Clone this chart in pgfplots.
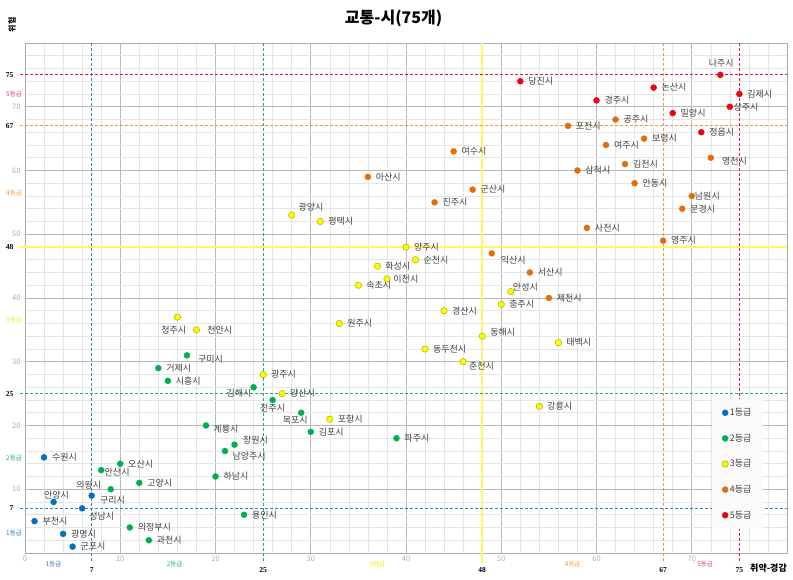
\documentclass[border=0pt]{standalone}
\usepackage{fontspec}
\setmainfont{Noto Sans CJK KR}
\newfontfamily\numserif{Liberation Serif}
\usepackage{pgfplots}
\pgfplotsset{compat=1.18}
\definecolor{c1}{HTML}{0070C0}
\definecolor{c2}{HTML}{00B050}
\definecolor{c3}{HTML}{FFFF00}
\definecolor{c3e}{HTML}{B8B800}
\definecolor{c4}{HTML}{E46C0A}
\definecolor{c5}{HTML}{F00010}
\definecolor{l1}{HTML}{2E86C1}
\definecolor{l2}{HTML}{14B07A}
\definecolor{l3}{HTML}{FFF766}
\definecolor{l4}{HTML}{E89A3C}
\definecolor{l5}{HTML}{DC1E3C}
\definecolor{t1}{HTML}{2E75B6}
\definecolor{t2}{HTML}{1AAE6E}
\definecolor{t3}{HTML}{F2E800}
\definecolor{t4}{HTML}{F09A40}
\definecolor{t5}{HTML}{D9404F}
\definecolor{labgray}{HTML}{404040}
\tikzset{
  lbl/.style={font=\fontsize{9}{10}\selectfont, text=labgray, inner sep=0pt},
  R/.style={anchor=west, xshift=7.8pt},
  thr/.style={font=\numserif\bfseries\fontsize{7.5}{8}\selectfont, inner sep=0pt},
  grd/.style={font=\fontsize{6.5}{7}\selectfont, inner sep=0pt},
  dsh/.style={line width=1pt, dash pattern=on 3pt off 2pt},
}
\newcommand{\lab}[3]{\node[lbl,R] at (axis cs:#1,#2) {#3};}
\newcommand{\labx}[4][]{\node[lbl,#1] at (axis cs:#2,#3) {#4};}
\begin{document}
\begin{tikzpicture}
\begin{axis}[
  scale only axis, width=762pt, height=510pt,
  xmin=0, xmax=80, ymin=0, ymax=80,
  xtick={0,10,...,80}, ytick={0,10,...,80},
  xticklabels={0,10,20,30,40,50,60,70,{}},
  yticklabels={{},10,20,30,40,50,60,70,{}},
  minor x tick num=4, minor y tick num=4,
  grid=both,
  major grid style={draw=gray!55, line width=0.6pt},
  minor grid style={draw=gray!20, line width=0.5pt},
  axis line style={draw=gray!65},
  major tick length=0pt, minor tick length=0pt,
  tick label style={font=\fontsize{7.5}{8}\selectfont, text=gray!65},
  yticklabel style={xshift=-1pt},
  clip=false,
  legend cell align=left,
  legend image code/.code={\draw[#1] plot coordinates {(0pt,0pt)};},
  legend style={at={(rel axis cs:0.935,0.1745)}, anchor=center, draw=none, fill=gray!4,
    font=\fontsize{9}{10}\selectfont, text=labgray, row sep=14pt,
    inner xsep=10pt, inner ysep=8pt, nodes={inner sep=1.5pt}},
]
% threshold lines
\addplot[forget plot, l3, line width=2.2pt] coordinates {(48,80) (48,-1.57)};
\addplot[forget plot, l3, line width=2.2pt] coordinates {(-0.52,48) (80,48)};
\addplot[forget plot, l1, dsh] coordinates {(7,80) (7,-1.57)};
\addplot[forget plot, l2, dsh] coordinates {(25,80) (25,-1.57)};
\addplot[forget plot, l4, dsh] coordinates {(67,80) (67,-1.57)};
\addplot[forget plot, l5, dsh] coordinates {(75,80) (75,-1.57)};
\addplot[forget plot, l1, dsh] coordinates {(-0.52,7) (80,7)};
\addplot[forget plot, l2, dsh] coordinates {(-0.52,25) (80,25)};
\addplot[forget plot, l4, dsh] coordinates {(-0.52,67) (80,67)};
\addplot[forget plot, l5, dsh] coordinates {(-0.52,75) (80,75)};

% grade 1
\addplot[only marks, mark=*, mark size=3pt, mark options={draw=c1, fill=c1}] table {
x y
2 15
7 9
3 8
6 7
1 5
4 3
5 1
};
\addlegendentry{1등급}
% grade 2
\addplot[only marks, mark=*, mark size=3pt, mark options={draw=c2, fill=c2}] table {
x y
17 31
14 29
15 27
24 26
26 24
29 22
19 20
30 19
39 18
22 17
21 16
10 14
8 13
20 12
12 11
9 10
23 6
11 4
13 2
};
\addlegendentry{2등급}
% grade 3
\addplot[only marks, mark=*, mark size=3.2pt, mark options={draw=c3e, fill=c3, line width=0.6pt}] table {
x y
28 53
31 52
40 48
41 46
37 45
38 43
35 42
51 41
50 39
44 38
16 37
33 36
18 35
48 34
56 33
42 32
46 30
25 28
27 25
54 23
32 21
};
\addlegendentry{3등급}
% grade 4
\addplot[only marks, mark=*, mark size=3pt, mark options={draw=c4, fill=c4}] table {
x y
62 68
57 67
65 65
61 64
45 63
72 62
63 61
58 60
36 59
64 58
47 57
70 56
43 55
69 54
59 51
67 49
49 47
53 44
55 40
};
\addlegendentry{4등급}
% grade 5
\addplot[only marks, mark=*, mark size=3pt, mark options={draw=c5, fill=c5}] table {
x y
73 75
52 74
66 73
75 72
60 71
74 70
68 69
71 66
};
\addlegendentry{5등급}

% labels grade 5
\labx[anchor=south, xshift=1pt, yshift=7pt]{73}{75}{나주시}
\lab{52}{74}{당진시}
\lab{66}{73}{논산시}
\lab{75}{72}{김제시}
\lab{60}{71}{경주시}
\labx[anchor=west, xshift=3.5pt]{74}{70}{상주시}
\lab{68}{69}{밀양시}
\lab{71}{66}{정읍시}
% grade 4
\lab{62}{68}{공주시}
\lab{57}{67}{포천시}
\lab{65}{65}{보령시}
\lab{61}{64}{여주시}
\lab{45}{63}{여수시}
\labx[anchor=west, xshift=11pt, yshift=-3pt]{72}{62}{영천시}
\lab{63}{61}{김천시}
\lab{58}{60}{삼척시}
\lab{36}{59}{아산시}
\lab{64}{58}{안동시}
\lab{47}{57}{군산시}
\labx[anchor=west, xshift=3pt]{70}{56}{남원시}
\lab{43}{55}{진주시}
\lab{69}{54}{문경시}
\lab{59}{51}{사천시}
\lab{67}{49}{영주시}
\labx[anchor=west, xshift=9pt, yshift=-7pt]{49}{47}{익산시}
\lab{53}{44}{서산시}
\lab{55}{40}{제천시}
% grade 3
\labx[anchor=west, xshift=6.7pt, yshift=7.7pt]{28}{53}{광양시}
\lab{31}{52}{평택시}
\lab{40}{48}{양주시}
\lab{41}{46}{순천시}
\lab{37}{45}{화성시}
\labx[anchor=west, xshift=6.3pt]{38}{43}{이천시}
\lab{35}{42}{속초시}
\labx[anchor=west, xshift=2pt, yshift=4pt]{51}{41}{안성시}
\lab{50}{39}{충주시}
\lab{44}{38}{경산시}
\labx[xshift=-3.7pt, yshift=-13pt]{16}{37}{청주시}
\lab{33}{36}{원주시}
\labx[anchor=west, xshift=10.7pt]{18}{35}{천안시}
\labx[anchor=west, xshift=8pt, yshift=4pt]{48}{34}{동해시}
\lab{56}{33}{태백시}
\lab{42}{32}{동두천시}
\labx[anchor=west, xshift=5.7pt, yshift=-4.3pt]{46}{30}{춘천시}
\lab{25}{28}{광주시}
\lab{27}{25}{양산시}
\lab{54}{23}{강릉시}
\lab{32}{21}{포항시}
% grade 2
\labx[anchor=west, xshift=11pt, yshift=-4pt]{17}{31}{구미시}
\lab{14}{29}{거제시}
\lab{15}{27}{시흥시}
\labx[anchor=east, xshift=-2pt, yshift=-6.3pt]{24}{26}{김해시}
\labx[yshift=-8.3pt]{26}{24}{전주시}
\labx[xshift=-6pt, yshift=-7.3pt]{29}{22}{목포시}
\labx[anchor=west, xshift=7.3pt, yshift=-4pt]{19}{20}{계룡시}
\lab{30}{19}{김포시}
\lab{39}{18}{파주시}
\labx[anchor=west, xshift=8.3pt, yshift=4.3pt]{22}{17}{창원시}
\labx[anchor=west, xshift=7.3pt, yshift=-5pt]{21}{16}{남양주시}
\lab{10}{14}{오산시}
\labx[anchor=west, xshift=3.3pt, yshift=-2.3pt]{8}{13}{안산시}
\lab{20}{12}{하남시}
\lab{12}{11}{고양시}
\labx[anchor=east, xshift=-9.3pt, yshift=4.3pt]{9}{10}{의왕시}
\lab{23}{6}{용인시}
\lab{11}{4}{의정부시}
\lab{13}{2}{과천시}
% grade 1
\lab{2}{15}{수원시}
\labx[anchor=west, xshift=8.3pt, yshift=-4.3pt]{7}{9}{구리시}
\labx[xshift=3pt, yshift=6.7pt]{3}{8}{안양시}
\labx[anchor=west, xshift=7pt, yshift=-7.3pt]{6}{7}{성남시}
\lab{1}{5}{부천시}
\lab{4}{3}{광명시}
\lab{5}{1}{군포시}

% threshold numbers x
\node[thr, yshift=-17pt] at (axis cs:7,0) {7};
\node[thr, yshift=-17pt] at (axis cs:25,0) {25};
\node[thr, yshift=-17pt] at (axis cs:48,0) {48};
\node[thr, yshift=-17pt] at (axis cs:67,0) {67};
\node[thr, yshift=-17pt] at (axis cs:75,0) {75};
% grade labels x
\node[grd, text=t1, yshift=-11pt] at (axis cs:3,0) {1등급};
\node[grd, text=t2, yshift=-11pt] at (axis cs:15.7,0) {2등급};
\node[grd, text=t3, yshift=-11pt] at (axis cs:37,0) {3등급};
\node[grd, text=t4, yshift=-11pt] at (axis cs:57.5,0) {4등급};
\node[grd, text=t5, yshift=-11.5pt] at (axis cs:71.4,0) {5등급};
% threshold numbers y
\node[thr, anchor=east, xshift=-11.5pt] at (axis cs:0,75) {75};
\node[thr, anchor=east, xshift=-11.5pt] at (axis cs:0,67) {67};
\node[thr, anchor=east, xshift=-11.5pt] at (axis cs:0,48) {48};
\node[thr, anchor=east, xshift=-11.5pt] at (axis cs:0,25) {25};
\node[thr, anchor=east, xshift=-11.5pt] at (axis cs:0,7) {7};
% grade labels y
\node[grd, text=t5, xshift=-11pt] at (axis cs:0,72) {5등급};
\node[grd, text=t4, xshift=-11pt] at (axis cs:0,56.5) {4등급};
\node[grd, text=t3, xshift=-11pt] at (axis cs:0,36.5) {3등급};
\node[grd, text=t2, xshift=-11pt] at (axis cs:0,14.9) {2등급};
\node[grd, text=t1, xshift=-11pt] at (axis cs:0,3.1) {1등급};
% axis titles
\node[font=\bfseries\fontsize{9}{10}\selectfont, anchor=east, inner sep=0pt, yshift=-15pt] at (axis cs:80,0) {취약-경감};
\node[font=\bfseries\fontsize{8}{9}\selectfont, rotate=90, inner sep=0pt] at ([xshift=-13pt, yshift=18pt]axis cs:0,80) {위험};
\node[font=\bfseries\fontsize{16}{18}\selectfont, inner sep=0pt] at ([yshift=25pt]axis cs:38.7,80) {교통-시(75개)};
\coordinate (SW) at (rel axis cs:0,0);
\coordinate (NE) at (rel axis cs:1,1);
\end{axis}
\pgfresetboundingbox
\path ([xshift=-25pt,yshift=-27pt]SW) rectangle ([xshift=6pt,yshift=43pt]NE);
\end{tikzpicture}
\end{document}
